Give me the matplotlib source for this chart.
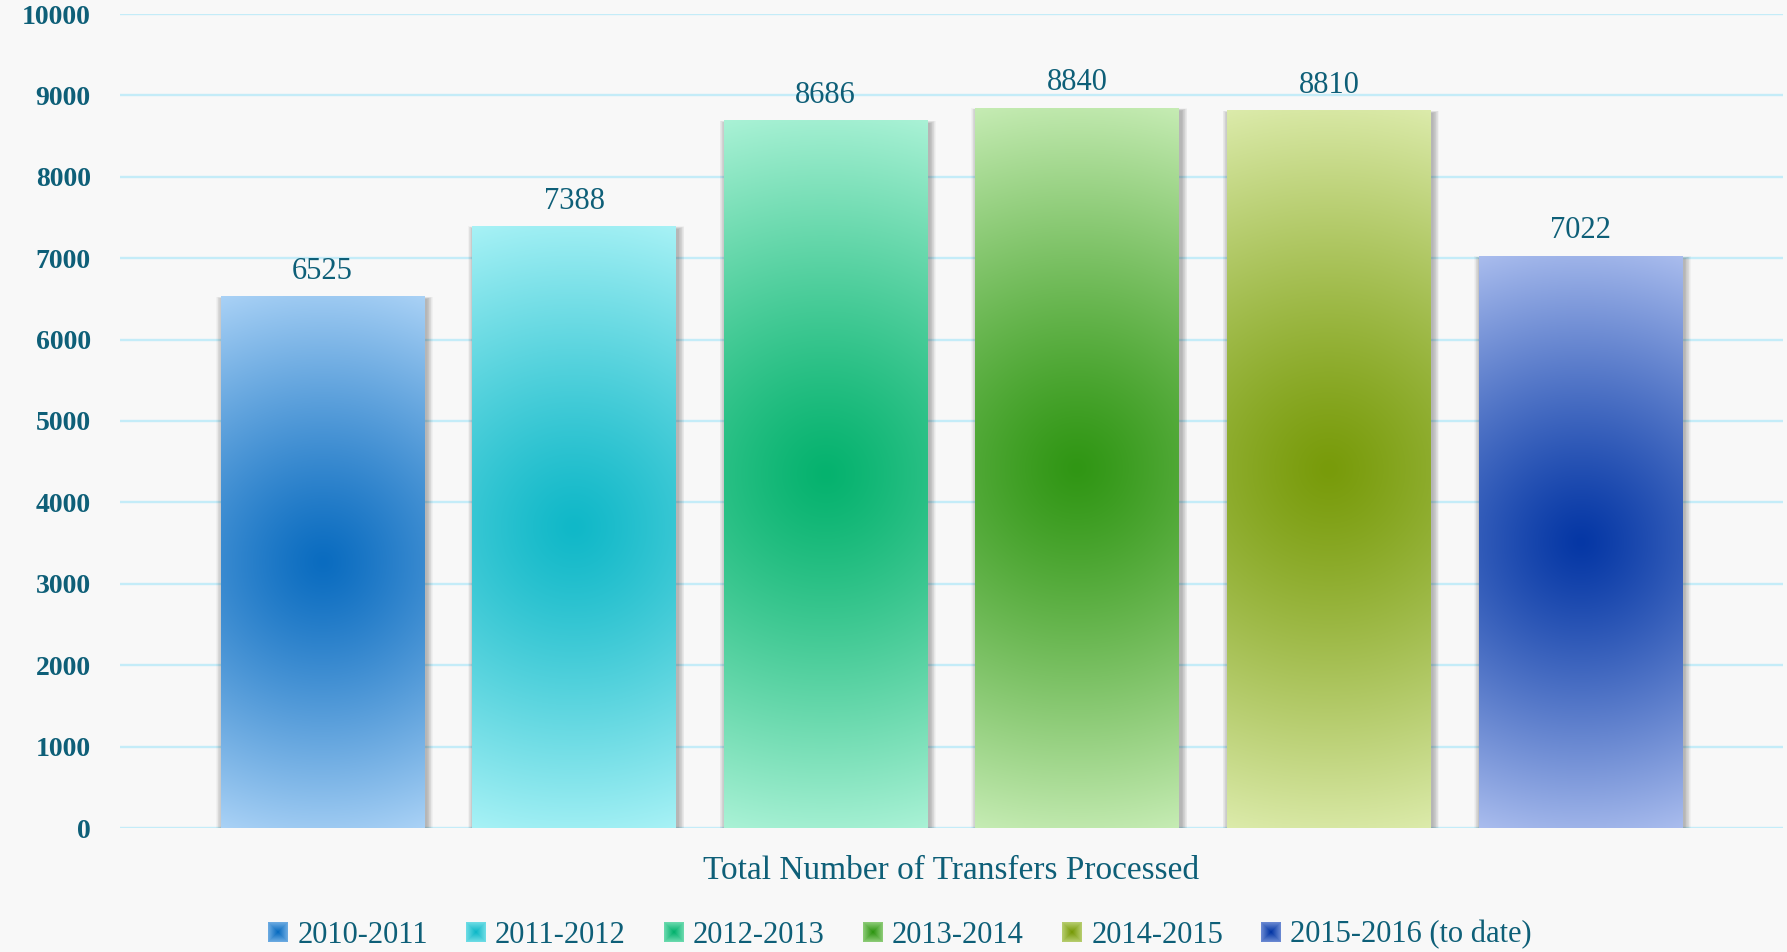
import numpy as np
import matplotlib
matplotlib.use("Agg")
import matplotlib.pyplot as plt
from matplotlib.patches import Rectangle
from matplotlib.legend_handler import HandlerBase

periods = ["2010-2011", "2011-2012", "2012-2013", "2013-2014", "2014-2015", "2015-2016 (to date)"]
transfers = [6525, 7388, 8686, 8840, 8810, 7022]
axis_title = "Total Number of Transfers Processed"
yticks = list(range(0, 10001, 1000))

# centre / rim colours of each bar's radial fill
centre_cols = ["#0a6cc0", "#10b8c8", "#05b26e", "#309614", "#789b0a", "#0537a5"]
rim_cols = ["#aad2f6", "#a8f2f6", "#aaf2d6", "#c6ecb4", "#dcebab", "#aabdee"]

txt = "#0e5f78"
bg = "#f8f8f8"
serif = ["Liberation Serif", "DejaVu Serif"]
plt.rcParams["font.family"] = serif

W, H, DPI = 1787, 952, 100
fig = plt.figure(figsize=(W / DPI, H / DPI), dpi=DPI, facecolor=bg)
ax_l, ax_r, ax_b, ax_t = 120, 1783, 828, 14
ax = fig.add_axes([ax_l / W, 1 - ax_b / H, (ax_r - ax_l) / W, (ax_b - ax_t) / H])
ax.set_facecolor(bg)

n = len(transfers)
xpos = np.arange(n)
bw = 0.81
xlo, xhi = -0.805, n - 1 + 0.805
ax.set_xlim(xlo, xhi)
ax.set_ylim(0, 10000)

# pixel sizes in data units
px_x = (xhi - xlo) / (ax_r - ax_l)
px_y = 10000 / (ax_b - ax_t)


def hex2rgb(h):
    return np.array(matplotlib.colors.to_rgb(h))


for y in yticks:
    ax.axhline(y, color="#c4ecf8", lw=1.7, zorder=0)

for i, (x, v) in enumerate(zip(xpos, transfers)):
    # soft shadow
    for k in range(9, 0, -1):
        ax.add_patch(Rectangle((x - bw / 2 - k * 0.7 * px_x + 2 * px_x, -2.5 * px_y),
                               bw + k * 1.4 * px_x, v + k * 0.3 * px_y,
                               facecolor="#000000", alpha=0.03, lw=0, zorder=1))
    ax.add_patch(Rectangle((x - bw / 2, -3 * px_y), bw + 1 * px_x, 3 * px_y,
                           facecolor="#7a7a7a", lw=0, zorder=1.5))
    # radial gradient in pixel space
    wpx = int(round(bw / px_x))
    hpx = int(round(v / px_y))
    gx = np.arange(wpx) - (wpx - 1) / 2
    gy = np.arange(hpx) - (hpx - 1) / 2
    dx, dy = np.meshgrid(gx, gy)
    d = np.sqrt(dx ** 2 + dy ** 2) / np.hypot(wpx / 2, hpx / 2)
    t = np.clip(d, 0, 1) ** 1.2
    c0, c1 = hex2rgb(centre_cols[i]), hex2rgb(rim_cols[i])
    img = c0[None, None, :] + t[..., None] * (c1 - c0)[None, None, :]
    ax.imshow(img, extent=[x - bw / 2, x + bw / 2, 0, v], aspect="auto",
              interpolation="bilinear", zorder=2)
    ax.annotate(f"{v}", (x, v), xytext=(0, 13), textcoords="offset points",
                ha="center", va="baseline", fontsize=22, color=txt, zorder=3)

ax.set_xlim(xlo, xhi)
ax.set_ylim(0, 10000)
ax.set_yticks(yticks)
ax.set_yticklabels([str(y) for y in yticks], fontsize=20, fontweight="bold", color=txt)
ax.tick_params(axis="y", length=0, pad=21)
ax.set_xticks([])
for s in ax.spines.values():
    s.set_visible(False)
ax.set_xlabel(axis_title, fontsize=24, color=txt, labelpad=20)


class GradKey:
    def __init__(self, c0, c1):
        self.c0 = hex2rgb(c0)
        self.c1 = hex2rgb(c0) + 0.6 * (hex2rgb(c1) - hex2rgb(c0))


class GradHandler(HandlerBase):
    def create_artists(self, legend, orig_handle, xdescent, ydescent, width, height, fontsize, trans):
        side = min(width, height)
        cx = -xdescent + width / 2
        cy = -ydescent + height / 2
        arts = []
        steps = 10
        for j in range(steps):
            f = 1 - j / steps
            col = orig_handle.c1 + (j / (steps - 1)) * (orig_handle.c0 - orig_handle.c1)
            r = Rectangle((cx - f * side / 2, cy - f * side / 2), f * side, f * side,
                          facecolor=col, lw=0, transform=trans)
            arts.append(r)
        return arts


keys = [GradKey(c0, c1) for c0, c1 in zip(centre_cols, rim_cols)]
fig.legend(keys, periods, handler_map={GradKey: GradHandler()}, ncol=n,
           loc="center", bbox_to_anchor=(900 / W, 1 - 935 / H), frameon=False,
           fontsize=22, labelcolor=txt, handlelength=0.65, handleheight=0.65,
           handletextpad=0.3, columnspacing=1.25, borderaxespad=0)

fig.savefig("out.png", dpi=DPI, facecolor=bg)
